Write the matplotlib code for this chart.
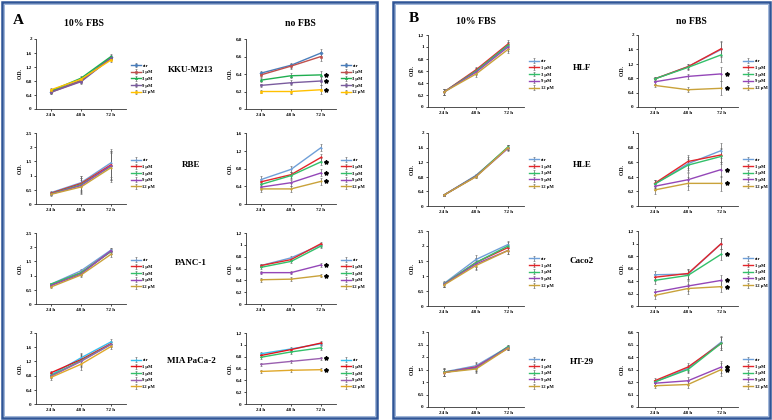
import matplotlib
matplotlib.use("Agg")
import matplotlib.pyplot as plt
from matplotlib.patches import Rectangle
from matplotlib.ticker import FuncFormatter

plt.rcParams['font.family'] = ['Liberation Serif', 'DejaVu Serif']
plt.rcParams['font.weight'] = 'bold'

W, H = 772, 420

times = ["24 h", "48 h", "72 h"]
doses = ["ctr", "1 \u00b5M", "3 \u00b5M", "9 \u00b5M", "12 \u00b5M"]

# ---- Panel A : cholangiocarcinoma / pancreatic lines ----
kku_fbs = [[0.50, 0.82, 1.48], [0.48, 0.80, 1.45], [0.52, 0.88, 1.50], [0.48, 0.78, 1.45], [0.55, 0.85, 1.40]]
kku_nofbs = [[0.41, 0.50, 0.64], [0.39, 0.49, 0.60], [0.33, 0.38, 0.39], [0.27, 0.30, 0.32], [0.20, 0.20, 0.22]]
rbe_fbs = [[0.40, 0.75, 1.45], [0.38, 0.72, 1.38], [0.36, 0.68, 1.33], [0.35, 0.65, 1.35], [0.34, 0.60, 1.28]]
rbe_nofbs = [[0.55, 0.78, 1.27], [0.50, 0.66, 1.05], [0.44, 0.64, 0.95], [0.38, 0.48, 0.70], [0.34, 0.34, 0.51]]
panc_fbs = [[0.70, 1.17, 1.90], [0.68, 1.10, 1.85], [0.70, 1.10, 1.85], [0.65, 1.05, 1.88], [0.60, 1.02, 1.75]]
panc_nofbs = [[0.65, 0.78, 1.00], [0.65, 0.75, 1.02], [0.62, 0.72, 0.98], [0.53, 0.53, 0.66], [0.41, 0.42, 0.48]]
mia_fbs = [[0.82, 1.30, 1.75], [0.88, 1.25, 1.70], [0.80, 1.22, 1.68], [0.78, 1.20, 1.68], [0.75, 1.12, 1.62]]
mia_nofbs = [[0.85, 0.93, 1.02], [0.82, 0.92, 1.03], [0.79, 0.88, 0.95], [0.67, 0.72, 0.77], [0.55, 0.57, 0.58]]

# ---- Panel B : liver / colon lines ----
hlf_fbs = [[0.25, 0.60, 1.02], [0.25, 0.62, 1.05], [0.25, 0.60, 1.03], [0.25, 0.58, 1.00], [0.25, 0.55, 0.96]]
hlf_nofbs = [[0.78, 1.12, 1.60], [0.78, 1.12, 1.62], [0.78, 1.10, 1.45], [0.70, 0.85, 0.92], [0.60, 0.48, 0.52]]
hle_fbs = [[0.30, 0.84, 1.60], [0.30, 0.82, 1.60], [0.30, 0.82, 1.62], [0.30, 0.81, 1.58], [0.30, 0.80, 1.60]]
hle_nofbs = [[0.30, 0.58, 0.76], [0.31, 0.61, 0.70], [0.30, 0.56, 0.68], [0.27, 0.36, 0.50], [0.22, 0.31, 0.31]]
caco_fbs = [[0.75, 1.55, 2.05], [0.72, 1.45, 1.95], [0.73, 1.45, 2.00], [0.72, 1.40, 1.85], [0.70, 1.35, 1.85]]
caco_nofbs = [[0.50, 0.51, 1.00], [0.46, 0.52, 1.00], [0.41, 0.49, 0.83], [0.22, 0.32, 0.41], [0.17, 0.28, 0.31]]
ht29_fbs = [[1.40, 1.65, 2.40], [1.38, 1.60, 2.35], [1.40, 1.55, 2.42], [1.38, 1.58, 2.38], [1.38, 1.52, 2.35]]
ht29_nofbs = [[0.20, 0.31, 0.52], [0.21, 0.32, 0.51], [0.20, 0.30, 0.51], [0.19, 0.21, 0.32], [0.17, 0.18, 0.30]]

# approximate error-bar half-heights per time point
kku_fbs_err = [0.04, 0.06, 0.06]
kku_nofbs_err = [0.02, 0.03, 0.05]
rbe_fbs_err = [0.05, 0.25, 0.50]
rbe_nofbs_err = [0.07, 0.07, 0.08]
panc_fbs_err = [0.05, 0.08, 0.08]
panc_nofbs_err = [0.03, 0.03, 0.03]
mia_fbs_err = [0.06, 0.15, 0.08]
mia_nofbs_err = [0.03, 0.03, 0.03]
hlf_fbs_err = [0.05, 0.05, 0.06]
hlf_nofbs_err = [0.05, 0.07, 0.20]
hle_fbs_err = [0.02, 0.03, 0.06]
hle_nofbs_err = [0.05, 0.09, 0.10]
caco_fbs_err = [0.08, 0.15, 0.12]
caco_nofbs_err = [0.06, 0.08, 0.09]
ht29_fbs_err = [0.15, 0.15, 0.08]
ht29_nofbs_err = [0.02, 0.03, 0.05]

# which doses get a significance star at 72 h
kku_stars = [2, 3, 4]
rbe_stars = [2, 3, 4]
panc_stars = [3, 4]
mia_stars = [3, 4]
hlf_stars = [3, 4]
hle_stars = [3, 4]
caco_stars = [2, 3, 4]
ht29_stars = [3, 4]

cell_lines_a = ["KKU-M213", "RBE", "PANC-1", "MIA PaCa-2"]
cell_lines_b = ["HLF", "HLE", "Caco2", "HT-29"]

# y-axis (max, step)
ylims = {
    "kku_fbs": (2, 0.4), "kku_nofbs": (0.8, 0.2), "rbe_fbs": (2.5, 0.5), "rbe_nofbs": (1.6, 0.4),
    "panc_fbs": (2.5, 0.5), "panc_nofbs": (1.2, 0.2), "mia_fbs": (2, 0.4), "mia_nofbs": (1.2, 0.2),
    "hlf_fbs": (1.2, 0.2), "hlf_nofbs": (2, 0.4), "hle_fbs": (2, 0.4), "hle_nofbs": (1, 0.2),
    "caco_fbs": (2.5, 0.5), "caco_nofbs": (1.2, 0.2), "ht29_fbs": (3, 0.5), "ht29_nofbs": (0.6, 0.1),
}

pal_excel = ['#4a7ebb', '#c0504d', '#1fae50', '#7a5c9e', '#ffc000']
pal_std = ['#6f9fd8', '#e3262b', '#33c06a', '#9447b8', '#c9a23a']
pal_mia = ['#33bfef', '#e3141c', '#33c06a', '#9a60b0', '#e0a82a']
mk_excel = ['D', 's', '^', 'o', 's']
mk_std = ['.', '.', '.', '.', '.']

fig = plt.figure(figsize=(W / 100, H / 100), dpi=100)


def px_axes(x0, y_top, w, y_bot):
    return fig.add_axes([x0 / W, 1 - y_bot / H, w / W, (y_bot - y_top) / H])


def comma(v, _):
    s = "%g" % round(v, 3)
    return s.replace(".", ",")


def draw(ax, data, err, key, stars, pal, mks, leg_y, ms):
    ymax, step = ylims[key]
    x = [1, 2, 3]
    for i, series in enumerate(data):
        ax.errorbar(x, series, yerr=err, color=pal[i], ecolor='#666666', elinewidth=0.5,
                    capsize=1.0, capthick=0.5, lw=1.0, marker=mks[i], ms=ms,
                    markeredgewidth=0.4, label=doses[i], zorder=3)
    for i in stars:
        ax.plot(3.17, data[i][2], marker='*', color='black', ms=3.0, zorder=4)
    ax.set_xlim(0.5, 3.5)
    ax.set_ylim(0, ymax)
    ticks = [round(step * k, 3) for k in range(int(round(ymax / step)) + 1)]
    ax.set_yticks(ticks)
    ax.yaxis.set_major_formatter(FuncFormatter(comma))
    ax.set_xticks(x)
    ax.set_xticklabels(times)
    ax.tick_params(labelsize=3.6, length=1.5, width=0.5, pad=1.5)
    for lab in ax.get_xticklabels() + ax.get_yticklabels():
        lab.set_fontweight('bold')
    for s in ['top', 'right']:
        ax.spines[s].set_visible(False)
    for s in ['left', 'bottom']:
        ax.spines[s].set_linewidth(0.6)
        ax.spines[s].set_color('#333333')
    ax.set_ylabel("O.D.", fontsize=4, fontweight='bold', labelpad=2)
    ax.set_facecolor('none')
    leg = ax.legend(loc='center left', bbox_to_anchor=(1.03, leg_y), frameon=False,
                    fontsize=3.3, handlelength=2.2, handletextpad=0.3, labelspacing=0.55,
                    borderpad=0)
    for t in leg.get_texts():
        t.set_fontweight('bold')


# panel borders (double line: dark outer, light inner)
for (bx0, bx1) in [(2, 377), (393, 770)]:
    fig.patches.append(Rectangle((bx0 / W, 2 / H), (bx1 - bx0) / W, (H - 4) / H,
                                 transform=fig.transFigure, fill=False,
                                 edgecolor='#2f5597', lw=1.8))
    fig.patches.append(Rectangle(((bx0 + 1.8) / W, 3.8 / H), (bx1 - bx0 - 3.6) / W, (H - 7.6) / H,
                                 transform=fig.transFigure, fill=False,
                                 edgecolor='#8fa9d3', lw=0.6))

# ---- panel A ----
rows_a = [(39, 109), (133, 204), (233, 304), (333, 404)]
fbs_a = [kku_fbs, rbe_fbs, panc_fbs, mia_fbs]
no_a = [kku_nofbs, rbe_nofbs, panc_nofbs, mia_nofbs]
fbs_a_err = [kku_fbs_err, rbe_fbs_err, panc_fbs_err, mia_fbs_err]
no_a_err = [kku_nofbs_err, rbe_nofbs_err, panc_nofbs_err, mia_nofbs_err]
keys_a = ["kku", "rbe", "panc", "mia"]
stars_a = [kku_stars, rbe_stars, panc_stars, mia_stars]
label_y_a = [70, 165, 263, 361]
for r, (yt, yb) in enumerate(rows_a):
    if r == 0:
        pal, mks, ms = pal_excel, mk_excel, 1.7
    elif r == 3:
        pal, mks, ms = pal_mia, mk_std, 2.2
    else:
        pal, mks, ms = pal_std, mk_std, 2.2
    ax1 = px_axes(36, yt, 90, yb)
    draw(ax1, fbs_a[r], fbs_a_err[r], keys_a[r] + "_fbs", [], pal, mks, 0.43, ms)
    ax2 = px_axes(246, yt, 90, yb)
    draw(ax2, no_a[r], no_a_err[r], keys_a[r] + "_nofbs", stars_a[r], pal, mks, 0.43, ms)
    fig.text(191 / W, 1 - label_y_a[r] / H, cell_lines_a[r], fontsize=6.5,
             fontweight='bold', ha='center', va='center')

fig.text(18 / W, 1 - 20 / H, "A", fontsize=11, fontweight='bold', ha='center', va='center')
fig.text(84 / W, 1 - 24 / H, "10% FBS", fontsize=7, fontweight='bold', ha='center', va='center')
fig.text(300 / W, 1 - 24 / H, "no FBS", fontsize=7, fontweight='bold', ha='center', va='center')

# ---- panel B ----
rows_b = [(35, 107), (133, 206), (231, 306), (332, 407)]
fbs_b = [hlf_fbs, hle_fbs, caco_fbs, ht29_fbs]
no_b = [hlf_nofbs, hle_nofbs, caco_nofbs, ht29_nofbs]
fbs_b_err = [hlf_fbs_err, hle_fbs_err, caco_fbs_err, ht29_fbs_err]
no_b_err = [hlf_nofbs_err, hle_nofbs_err, caco_nofbs_err, ht29_nofbs_err]
keys_b = ["hlf", "hle", "caco", "ht29"]
stars_b = [hlf_stars, hle_stars, caco_stars, ht29_stars]
label_y_b = [68, 165, 261, 362]
for r, (yt, yb) in enumerate(rows_b):
    ax1 = px_axes(428, yt, 96, yb)
    draw(ax1, fbs_b[r], fbs_b_err[r], keys_b[r] + "_fbs", [], pal_std, mk_std, 0.45, 2.2)
    ax2 = px_axes(638, yt, 100, yb)
    draw(ax2, no_b[r], no_b_err[r], keys_b[r] + "_nofbs", stars_b[r], pal_std, mk_std, 0.45, 2.2)
    fig.text(582 / W, 1 - label_y_b[r] / H, cell_lines_b[r], fontsize=6.5,
             fontweight='bold', ha='center', va='center')

fig.text(414 / W, 1 - 19 / H, "B", fontsize=11, fontweight='bold', ha='center', va='center')
fig.text(476 / W, 1 - 22 / H, "10% FBS", fontsize=7, fontweight='bold', ha='center', va='center')
fig.text(691 / W, 1 - 21 / H, "no FBS", fontsize=7, fontweight='bold', ha='center', va='center')

fig.savefig("out.png", dpi=100, facecolor='white')
